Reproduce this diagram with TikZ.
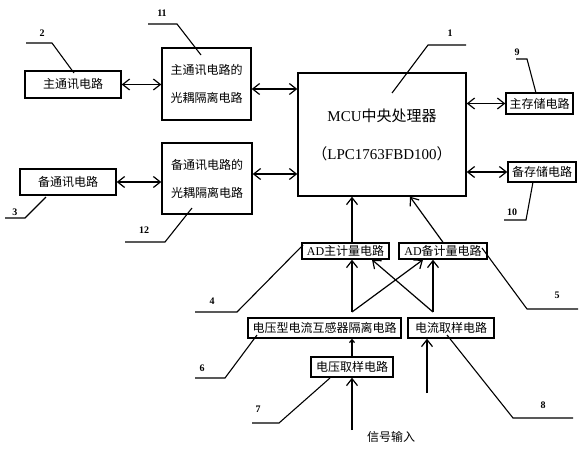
\documentclass[tikz,border=0pt]{standalone}
\usepackage{fontspec}
\setmainfont{Liberation Serif}
\newfontfamily\cjk{Noto Sans CJK SC}
\usepackage{tikz}
\usetikzlibrary{arrows.meta}

\begin{document}
\begin{tikzpicture}[x=1pt, y=-1pt,
    box/.style={draw, line width=1.4pt, inner sep=0pt, font=\cjk\fontsize{12}{14}\selectfont},
    twoline/.style={align=center, font=\cjk\fontsize{12}{28}\selectfont},
    link/.style={line width=1.2pt, {Straight Barb[length=7pt,width=11pt]}-{Straight Barb[length=7pt,width=11pt]}},
    feed/.style={line width=1.2pt, -{Straight Barb[length=7pt,width=11pt]}},
    tag/.style={font=\bfseries\fontsize{10}{12}\selectfont},
    leader/.style={line width=1.1pt}]
  \useasboundingbox (0,0) rectangle (585,450);

  % Communication side
  \node[box, minimum width=96pt, minimum height=27pt] (maincom) at (73,84.5) {主通讯电路};
  \node[box, minimum width=96pt, minimum height=26pt] (backcom) at (68,182) {备通讯电路};
  \node[box, twoline, minimum width=89pt, minimum height=72pt] (opto1) at (206.5,84) {主通讯电路的\\光耦隔离电路};
  \node[box, twoline, minimum width=90pt, minimum height=71pt] (opto2) at (207,178.5) {备通讯电路的\\光耦隔离电路};

  % MCU and memories
  \node[box, align=center, font=\fontsize{15}{38}\selectfont, minimum width=168pt, minimum height=123pt] (mcu) at (382,134.5)
    {MCU{\cjk 中央处理器}\\{\cjk （}LPC1763FBD100{\cjk ）}};
  \node[box, minimum width=67pt, minimum height=21pt] (mainmem) at (539.5,103.5) {主存储电路};
  \node[box, minimum width=68pt, minimum height=20pt] (backmem) at (542,172) {备存储电路};

  % Metering chain
  \node[box, minimum width=87pt, minimum height=16pt] (admain) at (345.5,251) {{\rmfamily AD}主计量电路};
  \node[box, minimum width=88pt, minimum height=16pt] (adbak) at (443,251) {{\rmfamily AD}备计量电路};
  \node[box, minimum width=153pt, minimum height=20pt] (viso) at (324.5,328) {电压型电流互感器隔离电路};
  \node[box, minimum width=86pt, minimum height=20pt] (isamp) at (451,328) {电流取样电路};
  \node[box, minimum width=82pt, minimum height=20pt] (vsamp) at (352,367) {电压取样电路};
  \node[font=\cjk\fontsize{12}{14}\selectfont] (sigtext) at (391,437) {信号输入};

  % Two-way links
  \draw[link] (maincom.east) -- (maincom.east -| opto1.west);
  \draw[link] ([yshift=-5pt]opto1.east) -- ([yshift=-5pt]opto1.east -| mcu.west);
  \draw[link] (backcom.east) -- (backcom.east -| opto2.west);
  \draw[link] ([yshift=4.5pt]opto2.east) -- ([yshift=4.5pt]opto2.east -| mcu.west);
  \draw[link] (mainmem.west -| mcu.east) -- (mainmem.west);
  \draw[link] (backmem.west -| mcu.east) -- (backmem.west);

  % AD circuits into the MCU
  \draw[feed] ([xshift=6.5pt]admain.north) -- ([xshift=6.5pt]admain.north |- mcu.south);
  \draw[feed] (adbak.north) -- ([xshift=28pt]mcu.south);

  % Crossed feeds
  \coordinate (vsplit) at (352,312);
  \coordinate (isplit) at (433,312);
  \draw[feed] (vsplit) -- (vsplit |- admain.south);
  \draw[feed] (vsplit) -- ([xshift=-20pt]adbak.south);
  \draw[feed] (isplit) -- (isplit |- adbak.south);
  \draw[feed] (isplit) -- ([xshift=26.5pt]admain.south);

  % Inputs
  \draw[line width=1.2pt, -{Straight Barb[length=3pt,width=5pt]}] (vsamp.north) -- (vsamp.north |- viso.south);
  \coordinate (sigin) at (352,430);
  \draw[feed] (sigin) -- (vsamp.south);
  \coordinate (iin) at (427,393);
  \draw[feed] (iin) -- (iin |- isamp.south);

  % Reference numbers
  \node[tag] (n1) at (450,33) {1};
  \draw[leader] (466,45) -- (428,45) -- (392,93);
  \node[tag] (n2) at (42,33) {2};
  \draw[leader] (26,43) -- (52,43) -- (74,73);
  \node[tag] (n3) at (15,212) {3};
  \draw[leader] (5,218) -- (25,218) -- (46,197);
  \node[tag] (n4) at (212,301) {4};
  \draw[leader] (195,312) -- (237,312) -- (303,245);
  \node[tag] (n5) at (557,295) {5};
  \draw[leader] (578,309) -- (527,309) -- (482,248);
  \node[tag] (n6) at (202,368) {6};
  \draw[leader] (195,378) -- (225,378) -- (257,335);
  \node[tag] (n7) at (258,409) {7};
  \draw[leader] (252,423) -- (279,423) -- (330,378);
  \node[tag] (n8) at (543,405) {8};
  \draw[leader] (573,418) -- (513,418) -- (447,335);
  \node[tag] (n9) at (517,52) {9};
  \draw[leader] (516,59) -- (527,59) -- (536,93);
  \node[tag] (n10) at (512,212) {10};
  \draw[leader] (504,220) -- (526,220) -- (533,182);
  \node[tag] (n11) at (162,13) {11};
  \draw[leader] (148,24) -- (177,24) -- (201,55);
  \node[tag] (n12) at (144,230) {12};
  \draw[leader] (125,242) -- (165,242) -- (192,208);
\end{tikzpicture}
\end{document}
